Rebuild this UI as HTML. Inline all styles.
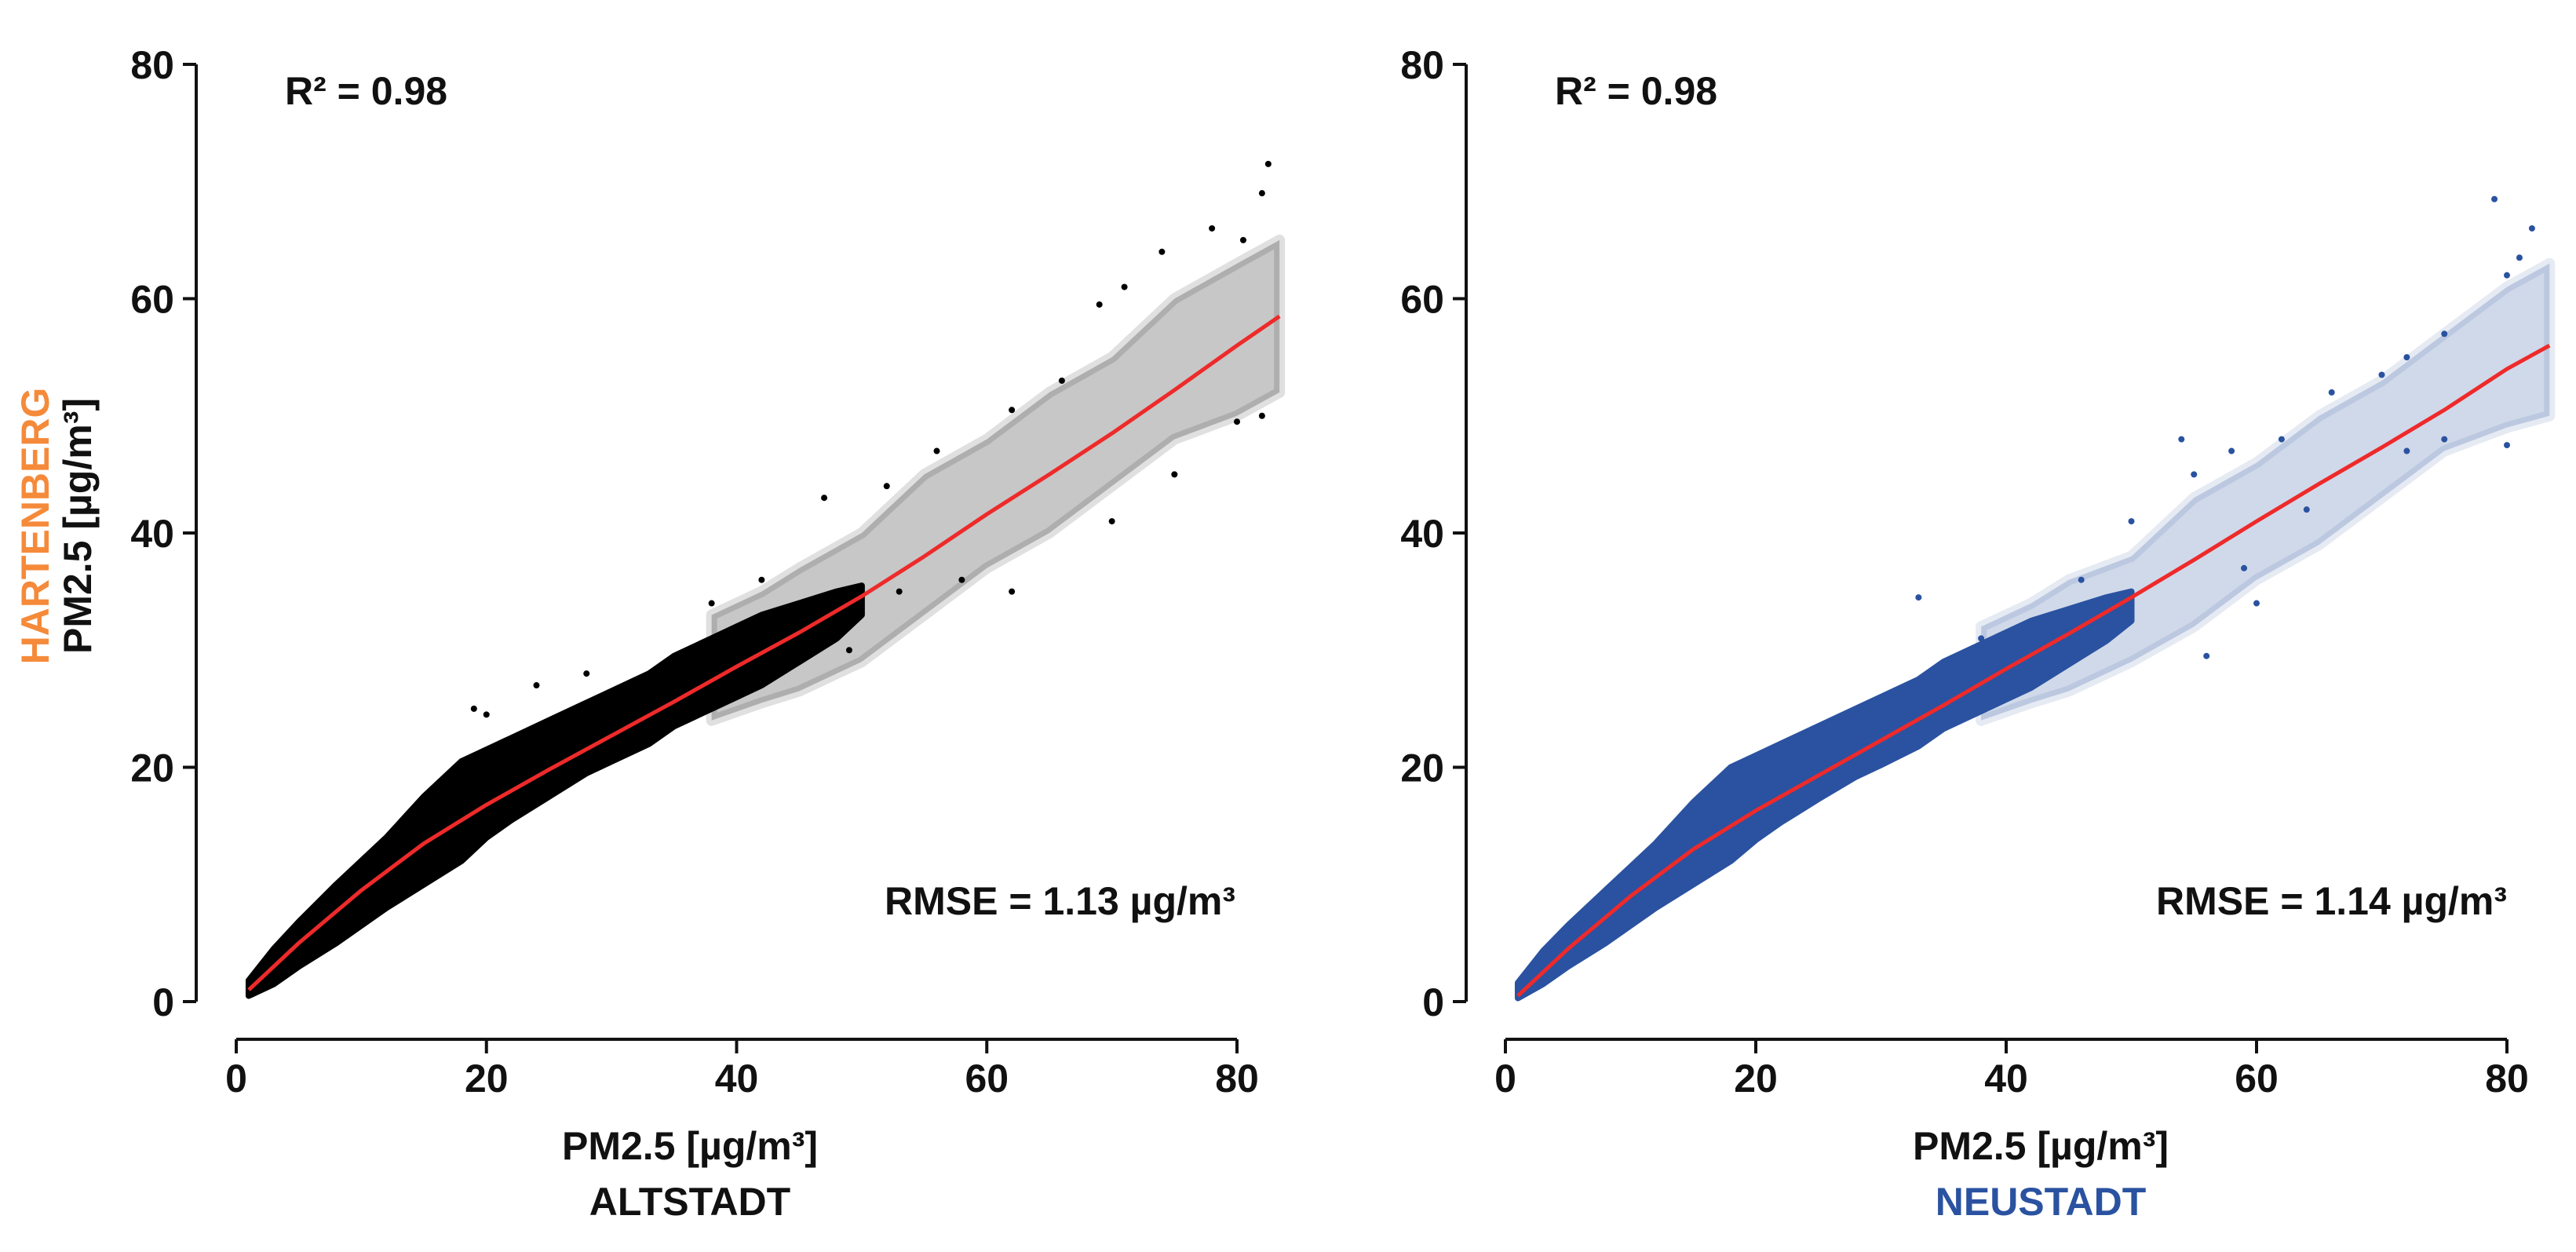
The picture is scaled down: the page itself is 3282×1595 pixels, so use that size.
<!DOCTYPE html>
<html><head><meta charset="utf-8"><style>
html,body{margin:0;padding:0;background:#fff}
svg{display:block}
text{font-family:"Liberation Sans",Arial,sans-serif;font-weight:bold}
</style></head><body>
<svg id="chart" width="3282" height="1595" viewBox="0 0 3282 1595" xmlns="http://www.w3.org/2000/svg">
<text transform="translate(62,670) rotate(-90)" text-anchor="middle" font-size="50" fill="#f58a3a">HARTENBERG</text>
<text transform="translate(116,670) rotate(-90)" text-anchor="middle" font-size="50" fill="#111">PM2.5 [µg/m³]</text>
<g id="left"></g>
<g id="right"></g>
</svg>
<script>
// ---- data ----
const yTicks = [0, 20, 40, 60, 80];
const xTicks = [0, 20, 40, 60, 80];
// dense core envelope (x, lower, upper)
const coreX = [1, 3, 5, 8, 10, 12, 15, 18, 20, 22, 25, 28, 30, 33, 35, 38, 40, 42, 45, 48, 50];
const leftCoreLow = [0.5, 1.5, 3, 5, 6.5, 8, 10, 12, 14, 15.5, 17.5, 19.5, 20.5, 22, 23.5, 25, 26, 27, 29, 31, 33];
const leftCoreHigh = [1.8, 4.5, 6.8, 10, 12, 14, 17.5, 20.5, 21.5, 22.5, 24, 25.5, 26.5, 28, 29.5, 31, 32, 33, 34, 35, 35.5];
const rightCoreLow = [0.3, 1.5, 3, 5, 6.5, 8, 10, 12, 13.8, 15.3, 17.3, 19.2, 20.2, 21.8, 23.3, 24.8, 25.8, 26.8, 28.8, 30.8, 32.5];
const rightCoreHigh = [1.6, 4.3, 6.5, 9.5, 11.5, 13.5, 17, 20, 21, 22, 23.5, 25, 26, 27.5, 29, 30.5, 31.5, 32.5, 33.5, 34.5, 35];
// sparse outer envelope
const sparseX = [38, 42, 45, 50, 55, 60, 65, 70, 75, 80, 83.4];
const leftSparseLow = [24, 25.5, 26.5, 29, 33, 37, 40, 44, 48, 50, 52];
const leftSparseHigh = [33, 35, 37, 40, 45, 48, 52, 55, 60, 63, 65];
const rightSparseLow = [24, 25.5, 26.5, 29, 32, 36, 39, 43, 47, 49, 50];
const rightSparseHigh = [32, 34, 36, 38, 43, 46, 50, 53, 57, 61, 63];
// fit curves
const curveX = [1, 5, 10, 15, 20, 25, 30, 35, 40, 45, 50, 55, 60, 65, 70, 75, 80, 83.4];
const leftCurveY = [1, 5, 9.5, 13.5, 16.8, 19.8, 22.7, 25.6, 28.6, 31.5, 34.6, 38, 41.6, 45, 48.5, 52.2, 56, 58.5];
const rightCurveY = [0.5, 4.5, 9, 13, 16.3, 19.3, 22.3, 25.3, 28.4, 31.4, 34.5, 37.7, 41, 44.2, 47.3, 50.5, 54, 56];
// outlier points (x, y)
const leftOutX = [82.5, 82, 80.5, 74, 78, 71, 69, 66, 62, 56, 52, 47, 42, 38, 28, 19, 20, 24, 62, 75, 80, 82, 70, 58, 53, 49];
const leftOutY = [71.5, 69, 65, 64, 66, 61, 59.5, 53, 50.5, 47, 44, 43, 36, 34, 28, 25, 24.5, 27, 35, 45, 49.5, 50, 41, 36, 35, 30];
const rightOutX = [79, 82, 81, 80, 75, 72, 70, 66, 62, 58, 55, 54, 50, 46, 33, 38, 56, 60, 72, 75, 80, 59, 64];
const rightOutY = [68.5, 66, 63.5, 62, 57, 55, 53.5, 52, 48, 47, 45, 48, 41, 36, 34.5, 31, 29.5, 34, 47, 48, 47.5, 37, 42];

const NS = 'http://www.w3.org/2000/svg';
function mk(tag, attrs, parent) {
  const e = document.createElementNS(NS, tag);
  for (const k in attrs) e.setAttribute(k, attrs[k]);
  parent.appendChild(e);
  return e;
}
function panel(g, o) {
  const Y0 = 1276, Y80 = 82;
  const sx = v => o.x0 + (o.x80 - o.x0) * v / 80;
  const sy = v => Y0 + (Y80 - Y0) * v / 80;
  let a = mk('path', {d: `M${o.ax} ${Y80} V${Y0}`, stroke: '#111', 'stroke-width': 4, fill: 'none'}, g);
  
  
  yTicks.forEach(t => {
    const l = mk('line', {x1: o.ax - 17, x2: o.ax, y1: sy(t), y2: sy(t), stroke: '#111', 'stroke-width': 4}, g);
    
    
    const tx = mk('text', {x: o.ax - 28, y: sy(t) + 18, 'text-anchor': 'end', 'font-size': 50, fill: '#111'}, g);
    tx.textContent = t;
    
    
  });
  a = mk('path', {d: `M${o.x0} 1324 H${o.x80}`, stroke: '#111', 'stroke-width': 4, fill: 'none'}, g);
  
  
  xTicks.forEach(t => {
    const l = mk('line', {x1: sx(t), x2: sx(t), y1: 1324, y2: 1342, stroke: '#111', 'stroke-width': 4}, g);
    
    
    const tx = mk('text', {x: sx(t), y: 1391, 'text-anchor': 'middle', 'font-size': 50, fill: '#111'}, g);
    tx.textContent = t;
    
    
  });
  let d = sparseX.map((x, i) => (i ? 'L' : 'M') + sx(x) + ' ' + sy(o.sHigh[i])).join(' ');
  for (let i = sparseX.length - 1; i >= 0; i--) d += ` L${sx(sparseX[i])} ${sy(o.sLow[i])}`;
  let p = mk('path', {d: d + 'Z', fill: o.color, 'fill-opacity': 0.22, stroke: o.color, 'stroke-opacity': 0.12, 'stroke-width': 14, 'stroke-linejoin': 'round'}, g);
  
  
  d = coreX.map((x, i) => (i ? 'L' : 'M') + sx(x) + ' ' + sy(o.cHigh[i])).join(' ');
  for (let i = coreX.length - 1; i >= 0; i--) d += ` L${sx(coreX[i])} ${sy(o.cLow[i])}`;
  p = mk('path', {d: d + 'Z', fill: o.color, stroke: o.color, 'stroke-width': 8, 'stroke-linejoin': 'round'}, g);
  
  
  o.outX.forEach((x, i) => {
    const c = mk('circle', {cx: sx(x), cy: sy(o.outY[i]), r: 4, fill: o.color}, g);
    
    
  });
  d = curveX.map((x, i) => (i ? 'L' : 'M') + sx(x) + ' ' + sy(o.curve[i])).join(' ');
  p = mk('path', {d, stroke: '#ee2a2a', 'stroke-width': 5, fill: 'none', 'stroke-linejoin': 'round'}, g);
  
  
  let t = mk('text', {x: o.ax + 113, y: 133, 'font-size': 50, fill: '#111'}, g);
  t.textContent = 'R² = 0.98';
  
  
  t = mk('text', {x: o.rmseRight, y: 1165, 'text-anchor': 'end', 'font-size': 50, fill: '#111'}, g);
  t.textContent = o.rmse;
  
  
  t = mk('text', {x: o.titleX, y: 1477, 'text-anchor': 'middle', 'font-size': 50, fill: '#111'}, g);
  t.textContent = 'PM2.5 [µg/m³]';
  
  
  t = mk('text', {x: o.titleX, y: 1548, 'text-anchor': 'middle', 'font-size': 50, fill: o.siteColor}, g);
  t.textContent = o.site;
  
  
}
panel(document.getElementById('left'), {ax: 250, x0: 301, x80: 1576, color: '#000',
  cLow: leftCoreLow, cHigh: leftCoreHigh, sLow: leftSparseLow, sHigh: leftSparseHigh,
  outX: leftOutX, outY: leftOutY, curve: leftCurveY, rmse: 'RMSE = 1.13 µg/m³', rmseRight: 1574,
  titleX: 879, site: 'ALTSTADT', siteColor: '#111'});
panel(document.getElementById('right'), {ax: 1868, x0: 1918, x80: 3194, color: '#2a52a0',
  cLow: rightCoreLow, cHigh: rightCoreHigh, sLow: rightSparseLow, sHigh: rightSparseHigh,
  outX: rightOutX, outY: rightOutY, curve: rightCurveY, rmse: 'RMSE = 1.14 µg/m³', rmseRight: 3194,
  titleX: 2600, site: 'NEUSTADT', siteColor: '#2a52a0'});
</script>
</body></html>
